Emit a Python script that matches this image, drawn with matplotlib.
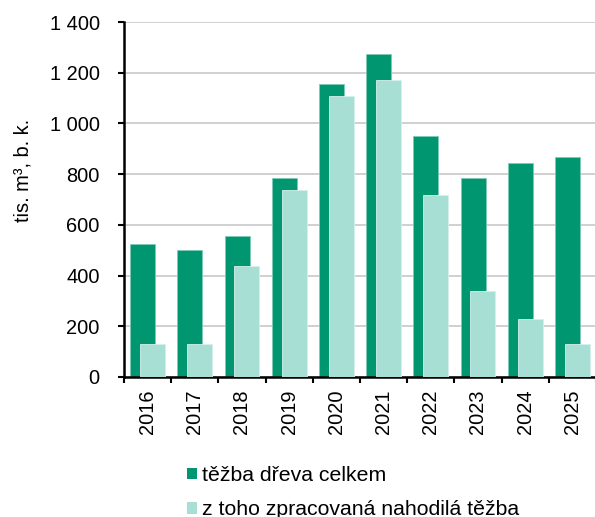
import numpy as np
import matplotlib
matplotlib.use("Agg")
import matplotlib.pyplot as plt
from matplotlib.ticker import FuncFormatter, FixedLocator
from matplotlib.patches import Patch

plt.rcParams['font.family'] = ['Liberation Sans', 'DejaVu Sans']

# data
years = ['2016', '2017', '2018', '2019', '2020', '2021', '2022', '2023', '2024', '2025']
total = [525, 500, 557, 785, 1155, 1274, 950, 783, 845, 868]      # těžba dřeva celkem
salvage = [131, 131, 438, 738, 1110, 1172, 716, 340, 227, 131]    # z toho nahodilá těžba

dark = '#009670'
light = '#a8dfd5'
fs = 14.4

fig = plt.figure(figsize=(5.95, 5.17), dpi=100)
ax = fig.add_axes([124 / 595, 1 - 377 / 517, 472 / 595, 355 / 517])

x = np.arange(len(years))
w = 0.53
off = 0.105
ax.bar(x - off, total, width=w, color=dark, edgecolor='#7fcab7', linewidth=0.6, zorder=2)
ax.bar(x + off, salvage, width=w, color=light, edgecolor='#d6f0eb', linewidth=0.6, zorder=3)

ax.set_xlim(-0.5, len(years) - 0.5)
ax.set_ylim(0, 1400)
ax.set_yticks(range(0, 1401, 200))
ax.yaxis.set_major_formatter(FuncFormatter(lambda v, p: f'{int(v):,}'.replace(',', ' ')))
ax.grid(axis='y', color='#c8c8c8', linewidth=1.2, zorder=0)
ax.set_axisbelow(True)

ax.set_xticks(x)
ax.set_xticklabels(years, rotation=90)
ax.xaxis.set_minor_locator(FixedLocator(np.arange(-0.5, len(years), 1.0)))
ax.tick_params(axis='x', which='major', length=0, pad=9, labelsize=fs)
ax.tick_params(axis='x', which='minor', length=4.5, width=1.5, direction='out')
ax.tick_params(axis='y', length=4.5, width=1.5, labelsize=fs, pad=13)

for s in ['top', 'right']:
    ax.spines[s].set_visible(False)
for s in ['left', 'bottom']:
    ax.spines[s].set_linewidth(1.8)

ax.set_ylabel('tis. m³, b. k.', fontsize=fs)
ax.yaxis.set_label_coords(-91 / 472, 0.583)

handles = [Patch(facecolor=dark, edgecolor='none'), Patch(facecolor=light, edgecolor='none')]
fig.legend(handles, ['těžba dřeva celkem', 'z toho zpracovaná nahodilá těžba'],
           loc='upper left', bbox_to_anchor=(168 / 595, 1 - 447 / 517),
           frameon=False, fontsize=15.3, handlelength=0.45, handleheight=0.45,
           handletextpad=0.25, labelspacing=0.72)

fig.savefig('out.png', dpi=100)
